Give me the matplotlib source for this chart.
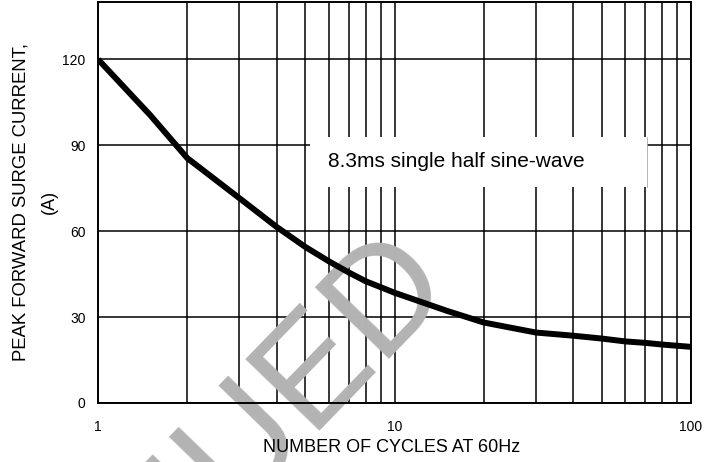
import matplotlib
matplotlib.use('Agg')
import matplotlib.pyplot as plt
from matplotlib.ticker import FixedLocator, NullFormatter, FixedFormatter
from matplotlib.patches import Rectangle

plt.rcParams['font.family'] = ['Liberation Sans', 'DejaVu Sans']

# 数据
cycles = [1, 1.5, 2, 3, 4, 5, 6, 7, 8, 9, 10, 15, 20, 30, 40, 50, 60, 70, 80, 100]
current = [120, 100.5, 85.5, 71.5, 61.5, 54.5, 49.5, 45.6, 42.5, 40.4, 38.5, 32.2,
           28.1, 24.6, 23.5, 22.5, 21.5, 21.0, 20.4, 19.6]
y_ticks = [0, 30, 60, 90, 120]
x_major = [1, 10, 100]
x_minor = [2, 3, 4, 5, 6, 7, 8, 9, 20, 30, 40, 50, 60, 70, 80, 90]

fig = plt.figure(figsize=(7.19, 4.62), dpi=100)
ax = fig.add_axes([98 / 719, 1 - 403 / 462, 593 / 719, 401 / 462])
ax.set_xscale('log')
ax.set_xlim(1, 100)
ax.set_ylim(0, 140)

ax.xaxis.set_major_locator(FixedLocator(x_major))
ax.xaxis.set_major_formatter(FixedFormatter(['1', '10', '100']))
ax.xaxis.set_minor_locator(FixedLocator(x_minor))
ax.xaxis.set_minor_formatter(NullFormatter())
ax.set_yticks(y_ticks)
ax.tick_params(which='both', length=0, labelsize=10)
ax.tick_params(axis='x', pad=12)
ax.tick_params(axis='y', pad=9)

ax.set_axisbelow(True)
ax.grid(True, which='both', axis='x', color='black', lw=1.1)
ax.grid(True, which='major', axis='y', color='black', lw=1.1)
for s in ax.spines.values():
    s.set_linewidth(1.4)

# 说明框
ax.add_patch(Rectangle((0.3575, 0.539), 0.5685, 0.124, transform=ax.transAxes,
                       facecolor='white', edgecolor='none', zorder=1.5))
ax.plot([0.926, 0.926], [0.539, 0.663], transform=ax.transAxes, color='#aaaaaa', lw=0.6, zorder=1.6)
ax.text(0.388, 0.601, '8.3ms single half sine-wave', transform=ax.transAxes,
        fontsize=15, va='center', ha='left', zorder=1.7)

# 水印
ax.text(453 / 719, 1 - 280 / 462, 'DISCONTINUED', transform=fig.transFigure,
        rotation=46, rotation_mode='anchor', ha='right', va='baseline',
        fontsize=108, color='#b3b3b3', zorder=1, clip_on=False)

ax.plot(cycles, current, color='black', lw=4.3, zorder=3, solid_capstyle='butt')

# 坐标轴标题
fig.text(392 / 719, 1 - 448 / 462, 'NUMBER OF CYCLES AT 60Hz', fontsize=13,
         ha='center', va='center')
fig.text(21.5 / 719, 1 - 202 / 462, 'PEAK FORWARD SURGE CURRENT,', fontsize=13.3,
         rotation=90, ha='center', va='center')
fig.text(49 / 719, 1 - 202 / 462, '(A)', fontsize=13,
         rotation=90, ha='center', va='center')

fig.savefig('out.png', dpi=100)
